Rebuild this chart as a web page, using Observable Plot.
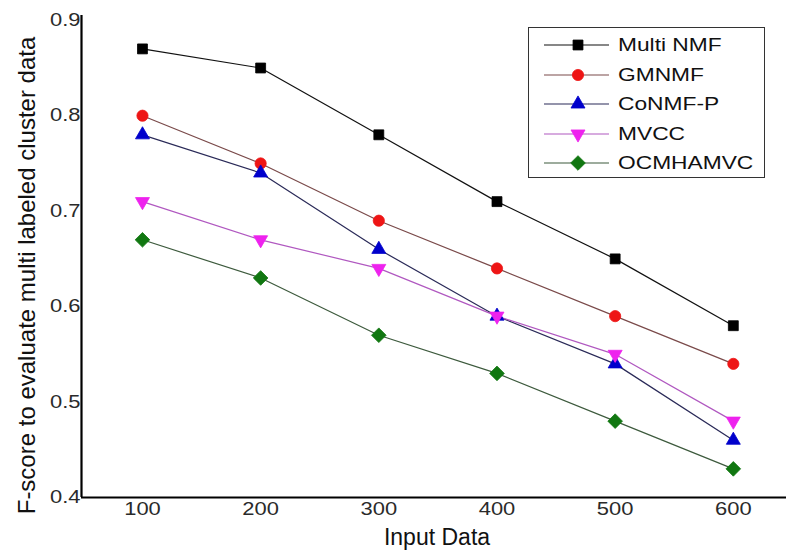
<!DOCTYPE html>
<html>
<head>
<meta charset="utf-8">
<script src="https://cdn.jsdelivr.net/npm/d3@7"></script>
<script src="https://cdn.jsdelivr.net/npm/@observablehq/plot@0.6"></script>
<style>
  body { margin: 0; background: #fff; }
  #chart { position: relative; width: 786px; height: 550px; font-family: "Liberation Sans", Arial, sans-serif; }
  #legend { position: absolute; left: 528px; top: 27px; width: 237px; height: 151px; border: 1.5px solid #333; background: #fff; box-sizing: border-box; }
  .row { position: absolute; left: 0; height: 30px; display: flex; align-items: center; }
  .row svg { display: block; }
  .row span { font-size: 18.5px; color: #111; display: inline-block; white-space: nowrap; transform: scaleX(1.23); transform-origin: left center; margin-left: 4px; }
</style>
</head>
<body>
<div id="chart"></div>
<script>
// ---- data ----
const inputs = [100, 200, 300, 400, 500, 600];
const seriesNames = ["Multi NMF", "GMNMF", "CoNMF-P", "MVCC", "OCMHAMVC"];
const multiNMF = [0.87, 0.85, 0.78, 0.71, 0.65, 0.58];
const gmnmf    = [0.80, 0.75, 0.69, 0.64, 0.59, 0.54];
const conmfP   = [0.78, 0.74, 0.66, 0.59, 0.54, 0.46];
const mvcc     = [0.71, 0.67, 0.64, 0.59, 0.55, 0.48];
const ocmhamvc = [0.67, 0.63, 0.57, 0.53, 0.48, 0.43];
const yTicks = [0.4, 0.5, 0.6, 0.7, 0.8, 0.9];
const xTicks = [100, 200, 300, 400, 500, 600];
const xLabel = "Input Data";
const yLabel = "F-score to evaluate multi labeled cluster data";

// ---- styles ----
const triangleDown = {
  draw(context, size) {
    const y = -Math.sqrt(size / (Math.sqrt(3) * 3));
    context.moveTo(0, -y * 2);
    context.lineTo(-Math.sqrt(3) * y, y);
    context.lineTo(Math.sqrt(3) * y, y);
    context.closePath();
  }
};
const seriesValues = [multiNMF, gmnmf, conmfP, mvcc, ocmhamvc];
const seriesStyle = [
  { line: "#111111", fill: "#000000", symbol: d3.symbolSquare,   r: 5.6 },
  { line: "#7a4a4a", fill: "#ee1515", symbol: d3.symbolCircle,   r: 5.6 },
  { line: "#2a2a58", fill: "#0000cc", symbol: d3.symbolTriangle, r: 5.2 },
  { line: "#b058c0", fill: "#ee22ee", symbol: triangleDown,      r: 5.2 },
  { line: "#3d5a3d", fill: "#117711", symbol: d3.symbolDiamond2, r: 6.6 }
];

const marks = [
  Plot.ruleY([0.4], { stroke: "#000", strokeWidth: 2.2 }),
  Plot.ruleX([48.4], { stroke: "#000", strokeWidth: 2.2 }),
  Plot.axisY(yTicks, { tickSize: 0, tickPadding: 1, tickFormat: d3.format(".1f"), label: null, fontSize: 18, fill: "#2a2a2a" }),
  Plot.axisX(xTicks, { tickSize: 0, tickPadding: 5, tickFormat: d3.format("d"), label: null, fontSize: 18, fill: "#2a2a2a" }),
  Plot.text([yLabel], { text: d => d, frameAnchor: "left", textAnchor: "middle", dx: -54, dy: 19, rotate: -90, fontSize: 24, fill: "#111" }),
  Plot.text([xLabel], { text: d => d, frameAnchor: "bottom", textAnchor: "middle", dx: 3, dy: 40, lineAnchor: "middle", fontSize: 23, fill: "#111", ariaLabel: "xlabel" })
];

seriesNames.forEach((name, i) => {
  const rows = inputs.map((x, j) => ({ series: name, input: x, score: seriesValues[i][j] }));
  const s = seriesStyle[i];
  marks.push(Plot.line(rows, { x: "input", y: "score", stroke: s.line, strokeWidth: 1.2 }));
});
seriesNames.forEach((name, i) => {
  const rows = inputs.map((x, j) => ({ series: name, input: x, score: seriesValues[i][j] }));
  const s = seriesStyle[i];
  marks.push(Plot.dot(rows, { x: "input", y: "score", symbol: s.symbol, r: s.r, fill: s.fill, stroke: s.fill, strokeWidth: 0.8 }));
});

const chart = Plot.plot({
  width: 786,
  height: 550,
  marginLeft: 81,
  marginRight: 0,
  marginTop: 15,
  marginBottom: 53,
  style: { fontFamily: "'Liberation Sans', Arial, sans-serif", fontSize: "18px", background: "#fff", color: "#222" },
  x: { domain: [48.4, 645] },
  y: { domain: [0.4, 0.905] },
  marks
});

// horizontal stretch of the lettering, as in the reference
d3.select(chart).selectAll("g[aria-label='x-axis tick label'] text, g[aria-label='y-axis tick label'] text")
  .attr("transform", function () { return (this.getAttribute("transform") || "") + " scale(1.22,1)"; });
d3.select(chart).selectAll("g[aria-label='xlabel'] text")
  .attr("transform", function () { return (this.getAttribute("transform") || "") + " scale(1.2,1)"; });

const root = document.getElementById("chart");
root.appendChild(chart);

// legend
const legend = d3.select(root).append("div").attr("id", "legend");
seriesNames.forEach((name, i) => {
  const s = seriesStyle[i];
  const row = legend.append("div").attr("class", "row").style("top", (2 + i * 29.6) + "px");
  const svg = row.append("svg").attr("width", 85).attr("height", 30);
  svg.append("line").attr("x1", 15).attr("x2", 80).attr("y1", 15).attr("y2", 15)
    .attr("stroke", s.line).attr("stroke-width", 1.2);
  svg.append("path").attr("transform", "translate(49,15)")
    .attr("d", d3.symbol(s.symbol, Math.PI * s.r * s.r)())
    .attr("fill", s.fill).attr("stroke", s.fill).attr("stroke-width", 0.8);
  row.append("span").text(name);
});
</script>
</body>
</html>
